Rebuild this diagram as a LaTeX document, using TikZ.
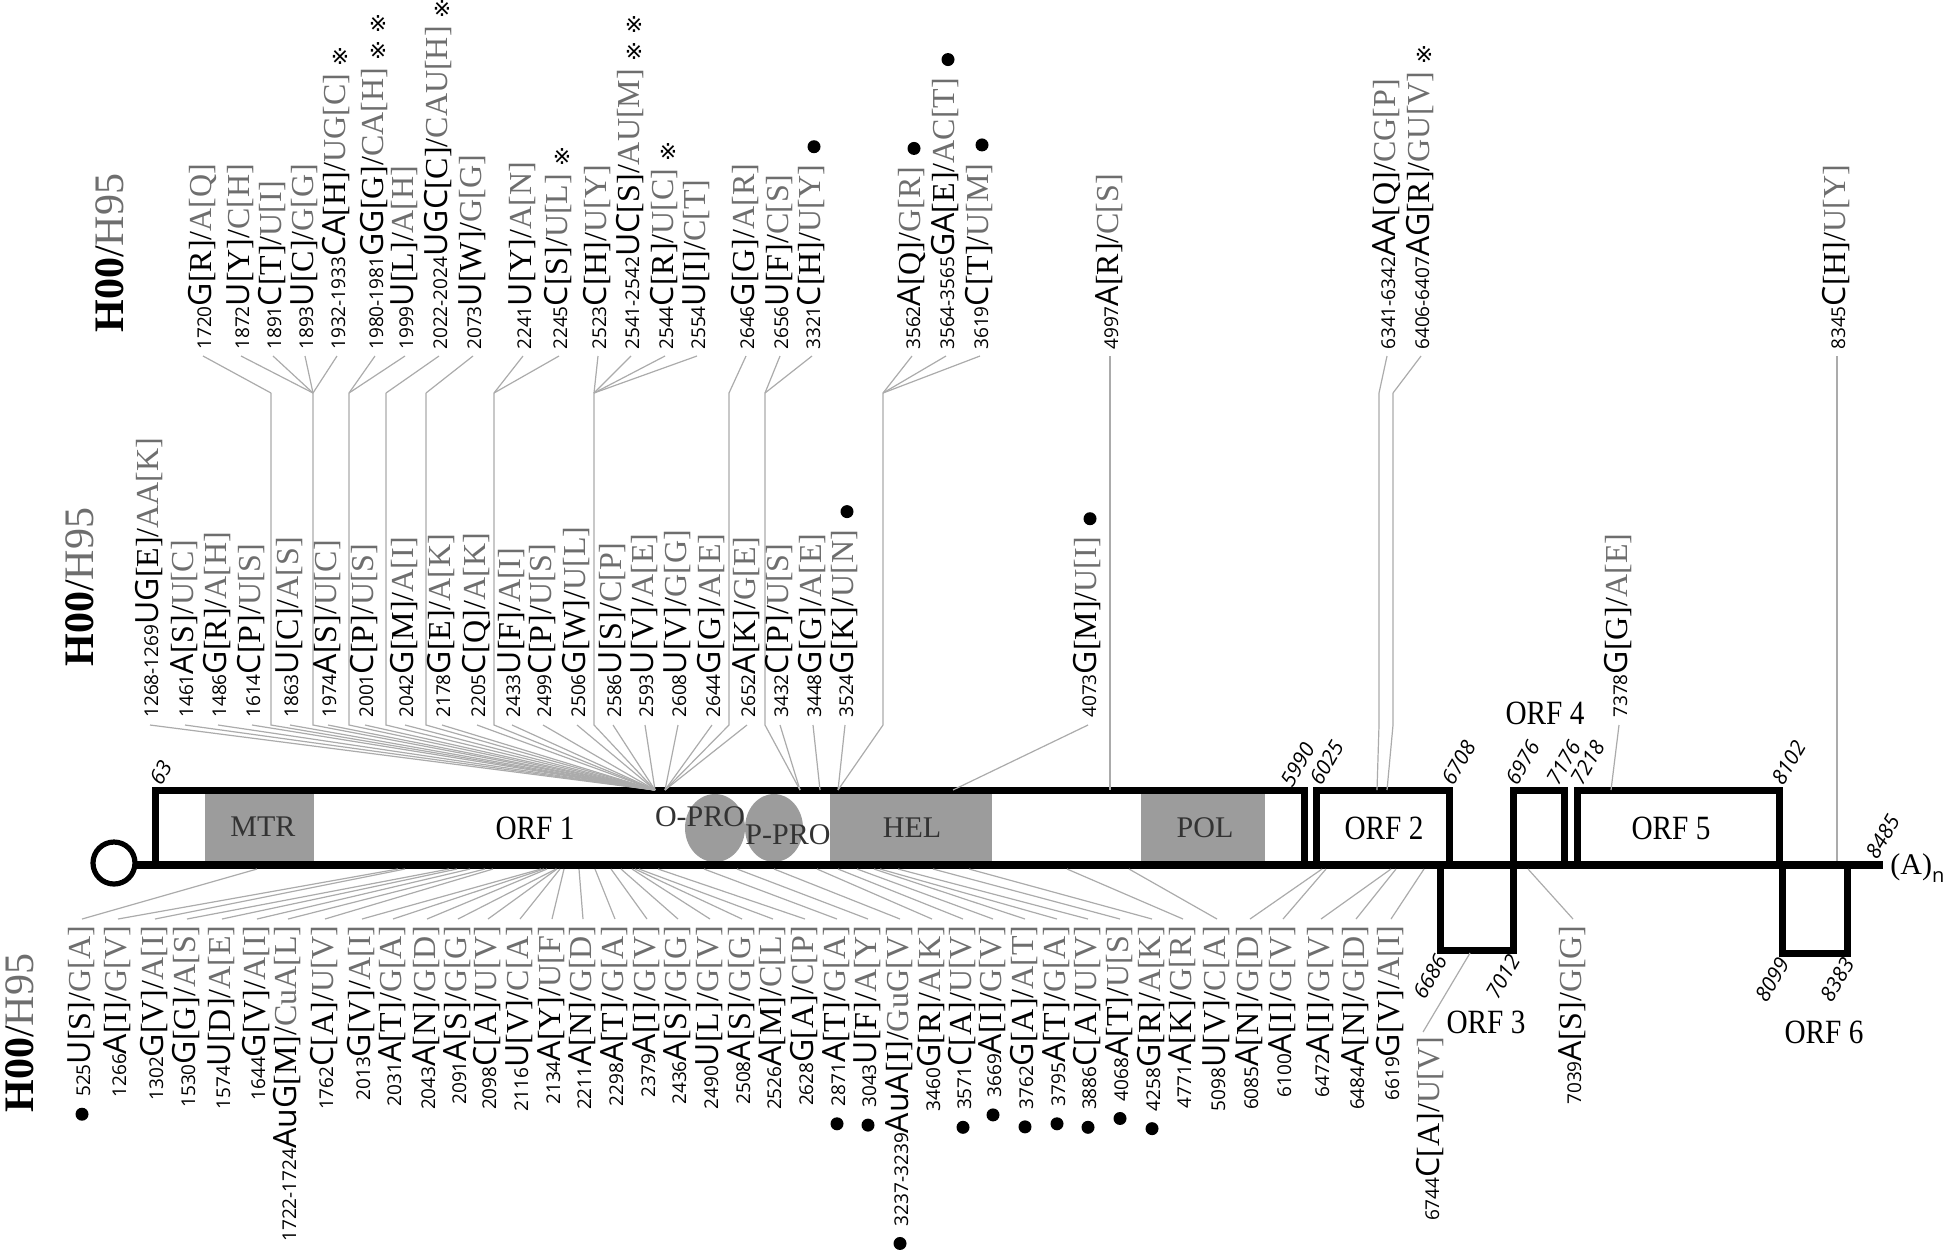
\documentclass[tikz,border=0pt]{standalone}
\usepackage{fontspec}
\setmainfont{Liberation Serif}
\newfontfamily\numfont{Open Sans}
\newfontfamily\symfont{DejaVu Sans}
\usetikzlibrary{calc,positioning}

\definecolor{hgrey}{HTML}{6E6E6E}
\definecolor{lgrey}{HTML}{ABABAB}
\definecolor{dgrey}{HTML}{9C9C9C}

% position number, then H00 codon[aa] / H95 codon[aa]
\newcommand{\nums}[1]{{\numfont\fontsize{9.5}{10}\selectfont #1}}
\newcommand{\mut}[5]{\nums{#1}{\numfont #2}[#3]/{\color{hgrey}#4[#5]}}
\newcommand{\orf}[1]{\scalebox{0.86}[1]{#1}}

\begin{document}
\begin{tikzpicture}[x=0.5pt,y=-0.5pt]
    \tikzstyle{conn}=[draw=lgrey,line width=0.6pt]
    \tikzstyle{orfbox}=[draw=black,line width=3.5pt]
    \tikzstyle{mutlbl}=[rotate=90,anchor=west,inner sep=0pt,text height=11pt,text depth=3pt,font=\fontsize{16}{18}\selectfont]
    \tikzstyle{botlbl}=[mutlbl,anchor=east]
    \tikzstyle{hdr}=[rotate=90,anchor=west,inner sep=0pt,font=\fontsize{21}{24}\selectfont]
    \tikzstyle{posn}=[rotate=60,inner sep=0pt,text height=6pt,text depth=0pt,font=\numfont\itshape\fontsize{10.5}{12}\selectfont]
    \tikzstyle{orflbl}=[inner sep=0pt,font=\fontsize{17}{20}\selectfont]
    \tikzstyle{dom}=[inner sep=0pt,text=black!80,font=\fontsize{15}{17}\selectfont]
    \tikzstyle{refm}=[inner sep=0pt,font=\symfont\fontsize{11}{11}\selectfont]
    \tikzstyle{snp}=[circle,fill=black,inner sep=0pt,minimum size=6.5pt]

    \useasboundingbox (0,0) rectangle (1946,1254);

	% Domains inside ORF 1
	\fill[dgrey] (205,793) rectangle (314,862);
	\fill[dgrey] (830,793) rectangle (992,862);
	\fill[dgrey] (1141,793) rectangle (1265,862);
	\fill[dgrey] (715,828) ellipse[x radius=30,y radius=34];
	\fill[dgrey] (774,828) ellipse[x radius=29,y radius=34];

	% ORF boxes and genome line
	\draw[orfbox] (155,865) |- (1304,790) -- (1304,865);
	\draw[orfbox] (1316,865) |- (1449,790) -- (1449,865);
	\draw[orfbox] (1440,865) |- (1513,950) -- (1513,865);
	\draw[orfbox] (1513,865) |- (1564,790) -- (1564,865);
	\draw[orfbox] (1577,865) |- (1779,790) -- (1779,865);
	\draw[orfbox] (1782,865) |- (1847,953) -- (1847,865);
	\draw[line width=4pt] (135,865) -- (1883,865);
	\draw[line width=2.6pt,fill=white] (114,863) circle[radius=21];
	\node[anchor=west,inner sep=0pt,font=\fontsize{15}{17}\selectfont] (polyA) at (1890,868)
	    {(A)\raisebox{-4pt}{\numfont\fontsize{10}{10}\selectfont n}};

	% Labels of ORFs and domains
	\node[orflbl] (orf1) at (535,828) {\orf{ORF 1}};
	\node[orflbl] (orf2) at (1384,828) {\orf{ORF 2}};
	\node[orflbl] (orf3) at (1486,1022) {\orf{ORF 3}};
	\node[orflbl] (orf4) at (1545,713) {\orf{ORF 4}};
	\node[orflbl] (orf5) at (1671,828) {\orf{ORF 5}};
	\node[orflbl] (orf6) at (1824,1032) {\orf{ORF 6}};
	\node[dom] (mtr) at (263,827) {MTR};
	\node[dom] (opro) at (700,817) {O-PRO};
	\node[dom] (ppro) at (788,835) {P-PRO};
	\node[dom] (hel) at (912,828) {HEL};
	\node[dom] (pol) at (1205,828) {POL};

	% Genome positions
	\foreach \x/\y/\p in {156/784/63,1287/786/5990,1316/784/6025,1448/784/6708,1512/784/6976,
	    1553/784/7176,1577/784/7218,1778/784/8102,1872/858/8485}
	\node[posn,anchor=west] (n\p) at (\x,\y) {\p};
	\foreach \x/\y/\p in {1443/957/6686,1516/957/7012,1785/960/8099,1850/960/8383}
	\node[posn,anchor=east] (n\p) at (\x,\y) {\p};

	% Headers
	\node[hdr] (h-top) at (110,333) {\textbf{H00}/{\color{hgrey}H95}};
	\node[hdr] (h-mid) at (80,667) {\textbf{H00}/{\color{hgrey}H95}};
	\node[hdr] (h-bot) at (20,1113) {\textbf{H00}/{\color{hgrey}H95}};

	% Points where the bundles meet ORF 1 and the other ORFs
	\coordinate (P1) at (655,790);
	\coordinate (P2) at (665,790);
	\coordinate (Q1) at (800,790);
	\coordinate (Q2) at (820,790);
	\coordinate (Q3) at (838,790);
	\coordinate (R1) at (953,790);
	\coordinate (R2) at (1611,790);
	\coordinate (T11) at (1110,790);
	\coordinate (T12) at (1377,790);
	\coordinate (T13) at (1387,790);
	\coordinate (T14) at (1837,861);

	% Knees of the upper row
	\foreach \k/\x/\t in {1/271/P1,2/313/P1,3/349/P1,4/386/P1,5/426/P1,6/494/P1,7/594/P1,
	    8/729/P2,9/765/Q1,10/883/Q3,11/1110/T11,12/1379/T12,13/1393/T13,14/1837/T14} {
	\coordinate (ku\k) at (\x,393);
	\coordinate (kd\k) at (\x,725);
	\draw[conn] (ku\k) -- (kd\k) -- (\t);
	}

	% Upper row of substitutions
	\foreach \x/\n/\nt/\aa/\gn/\ga/\k in {203/1720/G/R/A/Q/1,241/1872/U/Y/C/H/2,273/1891/C/T/U/I/2,
	    305/1893/U/C/G/G/2,337/1932-1933/CA/H/UG/C/2,375/1980-1981/GG/G/CA/H/3,405/1999/U/L/A/H/3,
	    439/2022-2024/UGC/C/CAU/H/4,473/2073/U/W/G/G/5,523/2241/U/Y/A/N/6,559/2245/C/S/U/L/6,
	    598/2523/C/H/U/Y/7,631/2541-2542/UC/S/AU/M/7,665/2544/C/R/U/C/7,697/2554/U/I/C/T/7,
	    746/2646/G/G/A/R/8,780/2656/U/F/C/S/9,812/3321/C/H/U/Y/9,912/3562/A/Q/G/R/10,
	    946/3564-3565/GA/E/AC/T/10,980/3619/C/T/U/M/10,1110/4997/A/R/C/S/11,
	    1387/6341-6342/AA/Q/CG/P/12,1421/6406-6407/AG/R/GU/V/13,1837/8345/C/H/U/Y/14} {
	\node[mutlbl] (T-\n) at (\x,350) {\mut{\n}{\nt}{\aa}{\gn}{\ga}};
	\draw[conn] ($(T-\n.west)+(0,6)$) -- (ku\k);
	}

	% Middle row of substitutions
	\foreach \x/\n/\nt/\aa/\gn/\ga/\t in {150/1268-1269/UG/E/AA/K/P1,185/1461/A/S/U/C/P1,
	    218/1486/G/R/A/H/P1,252/1614/C/P/U/S/P1,290/1863/U/C/A/S/P1,328/1974/A/S/U/C/P1,
	    365/2001/C/P/U/S/P1,405/2042/G/M/A/I/P1,442/2178/G/E/A/K/P1,477/2205/C/Q/A/K/P1,
	    512/2433/U/F/A/I/P1,543/2499/C/P/U/S/P1,577/2506/G/W/U/L/P1,613/2586/U/S/C/P/P1,
	    645/2593/U/V/A/E/P1,678/2608/U/V/G/G/P2,712/2644/G/G/A/E/P2,747/2652/A/K/G/E/P2,
	    780/3432/C/P/U/S/Q1,813/3448/G/G/A/E/Q2,845/3524/G/K/U/N/Q3,1088/4073/G/M/U/I/R1,
	    1619/7378/G/G/A/E/R2} {
	\node[mutlbl] (M-\n) at (\x,718) {\mut{\n}{\nt}{\aa}{\gn}{\ga}};
	\draw[conn] ($(M-\n.west)+(0,7)$) -- (\t);
	}

	% Lower row of substitutions
	\foreach \x/\n/\nt/\aa/\gn/\ga/\t in {82/525/U/S/G/A/257,118/1266/A/I/G/V/398,
	    155/1302/G/V/A/I/405,187/1530/G/G/A/S/449,222/1574/U/D/A/E/457,257/1644/G/V/A/I/470,
	    288/1722-1724/AuG/M/CuA/L/485,325/1762/C/A/U/V/493,362/2013/G/V/A/I/541,
	    393/2031/A/T/G/A/544,427/2043/A/N/G/D/547,458/2091/A/S/G/G/556,488/2098/C/A/U/V/557,
	    520/2116/U/V/C/A/560,552/2134/A/Y/U/F/564,583/2211/A/N/G/D/579,615/2298/A/T/G/A/595,
	    647/2379/A/I/G/V/611,678/2436/A/S/G/G/621,710/2490/U/L/G/V/632,742/2508/A/S/G/G/635,
	    773/2526/A/M/C/L/639,805/2628/G/A/C/P/658,837/2871/A/T/G/A/704,868/3043/U/F/A/Y/737,
	    900/3237-3239/AuA/I/GuG/V/774,932/3460/G/R/A/K/817,963/3571/C/A/U/V/838,
	    993/3669/A/I/G/V/857,1025/3762/G/A/A/T/874,1057/3795/A/T/G/A/880,1088/3886/C/A/U/V/898,
	    1120/4068/A/T/U/S/933,1152/4258/G/R/A/K/969,1183/4771/A/K/G/R/1067,
	    1217/5098/U/V/C/A/1129,1250/6085/A/N/G/D/1322,1283/6100/A/I/G/V/1326,
	    1321/6472/A/I/G/V/1391,1356/6484/A/N/G/D/1396,1391/6619/G/V/A/I/1424,
	    1573/7039/A/S/G/G/1528} {
	\node[botlbl] (B-\n) at (\x,925) {\mut{\n}{\nt}{\aa}{\gn}{\ga}};
	\coordinate (b\n) at (\t,869);
	\draw[conn] ($(B-\n.east)+(0,-6)$) -- (b\n);
	}
	\node[botlbl] (B-6744) at (1431,1036) {\mut{6744}{C}{A}{U}{V}};
	\coordinate (b6744) at (1470,953);
	\draw[conn] ($(B-6744.east)+(-8,-4)$) -- (b6744);

	% Markers
	\foreach \n in {1932-1933,2022-2024,2245,2544,6406-6407}
	\node[refm] at ($(T-\n.east)+(3,-17)$) {※};
	\foreach \n in {1980-1981,2541-2542} {
	\node[refm] at ($(T-\n.east)+(3,-17)$) {※};
	\node[refm] at ($(T-\n.east)+(3,-44)$) {※};
	}
	\foreach \n in {3321,3562,3564-3565,3619}
	\node[snp] at ($(T-\n.east)+(2,-18)$) {};
	\foreach \n in {3524,4073}
	\node[snp] at ($(M-\n.east)+(2,-18)$) {};
	\foreach \n in {525,2871,3043,3237-3239,3571,3669,3762,3795,3886,4068,4258}
	\node[snp] at ($(B-\n.west)+(0,17)$) {};
\end{tikzpicture}
\end{document}
